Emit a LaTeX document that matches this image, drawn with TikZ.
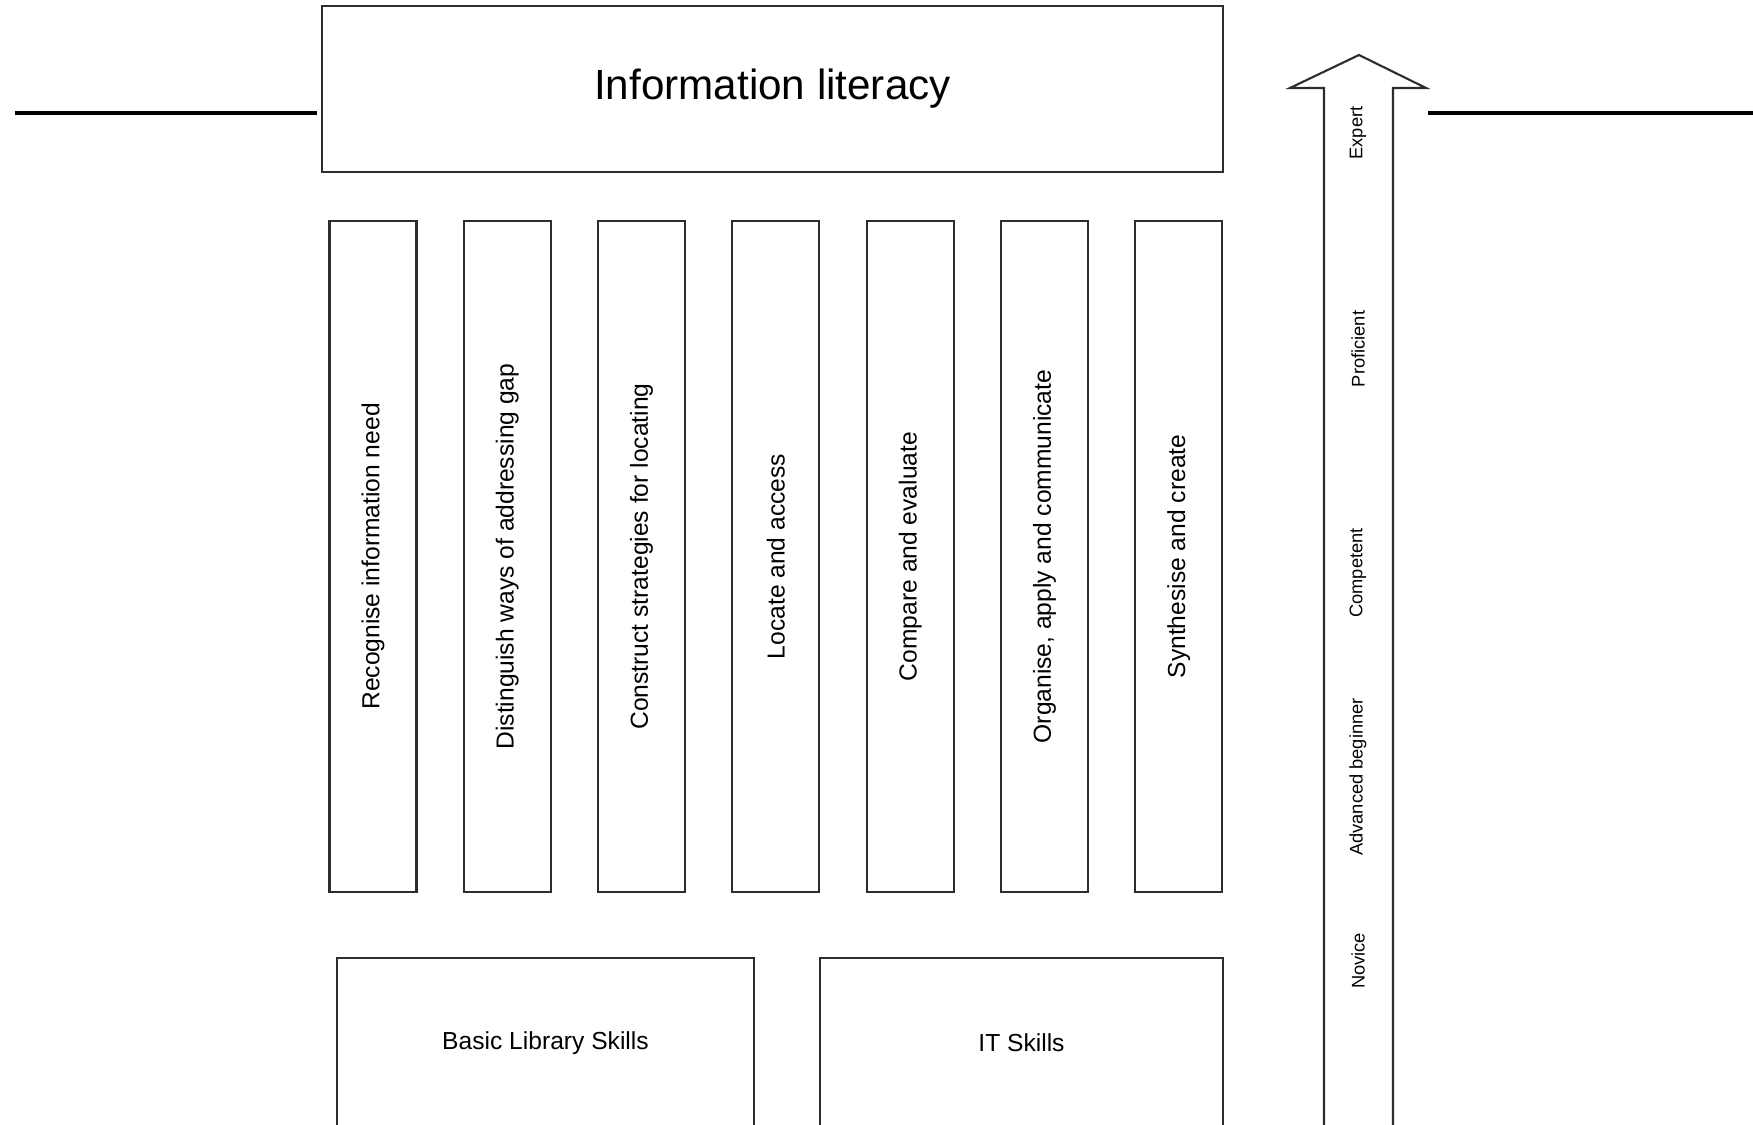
\documentclass[tikz,border=0pt]{standalone}
\usepackage{fontspec}
\setmainfont{Liberation Sans}
\definecolor{outline}{RGB}{45, 45, 45}
\usetikzlibrary{positioning, calc}
\tikzset{
    titlebox/.style={rectangle, draw=outline, line width=0.6pt, fill=white, minimum width=9.01cm, minimum height=1.665cm, align=center, font=\fontsize{12}{14}\selectfont},
    pillar/.style={rectangle, draw=outline, line width=0.6pt, minimum width=6.71cm, minimum height=0.87cm, inner sep=0pt, rotate=90, font=\fontsize{7}{8}\selectfont},
    basebox/.style={rectangle, draw=outline, line width=0.6pt, minimum height=1.7cm, align=center, font=\fontsize{7}{8}\selectfont},
    level/.style={rotate=90, inner sep=1pt, font=\fontsize{5.2}{6}\selectfont},
    rule/.style={line width=0.9pt, black},
    scalearrow/.style={line width=0.6pt, draw=outline, fill=white, line join=miter}
}

\begin{document}
\begin{tikzpicture}[x=0.01cm, y=-0.01cm]
        \useasboundingbox (0,0) rectangle (1753,1125);
        \clip (0,0) rectangle (1753,1125);

        % Heading box
        \node[titlebox] (title) at (772.5, 89) {Information literacy};

        % The seven pillars
        \foreach \i/\x/\txt in {1/373/Recognise information need,
                                2/507.3/Distinguish ways of addressing gap,
                                3/641.6/Construct strategies for locating,
                                4/775.9/Locate and access,
                                5/910.2/Compare and evaluate,
                                6/1044.5/{Organise, apply and communicate},
                                7/1178.8/Synthesise and create}
            \node[pillar] (p\i) at (\x, 556.5) {\txt};

        % Foundation boxes
        \node[basebox, minimum width=4.17cm] (library) at (545.5, 1043) {Basic Library Skills};
        \node[basebox, minimum width=4.03cm] (it) at (1021.5, 1043) {IT Skills};

        % Novice to expert arrow
        \coordinate (tip) at (1359, 55);
        \coordinate (headL) at (1290, 88);
        \coordinate (headR) at (1426, 88);
        \draw[scalearrow] (1324, 1140) -- (1324, 88) -- (headL) -- (tip) -- (headR) -- (1393, 88) -- (1393, 1140);
        \foreach \j/\y/\lvl in {1/133/Expert, 2/349/Proficient, 3/573/Competent, 4/777/Advanced beginner, 5/961/Novice}
            \node[level] (lv\j) at (1358, \y) {\lvl};

        % Horizontal rules
        \coordinate (lfree) at (15, 113);
        \coordinate (rfree) at (1753, 113);
        \draw[rule, shorten >=0.04cm] (lfree) -- (lfree -| title.west);
        \draw[rule, shorten >=0.02cm] (rfree) -- (rfree -| headR);
    \end{tikzpicture}
\end{document}
